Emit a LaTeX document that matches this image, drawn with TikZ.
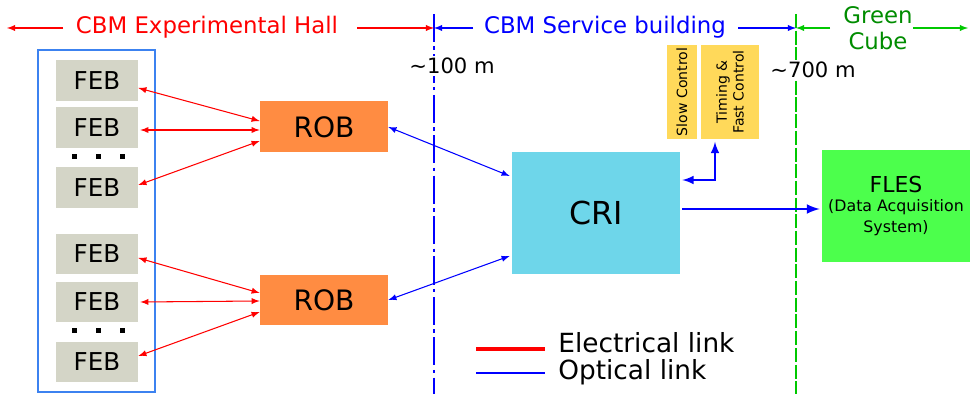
\documentclass[tikz,border=0pt]{standalone}
\usepackage{fontspec}
\setmainfont{DejaVu Sans}
\usetikzlibrary{arrows,calc}

\definecolor{febgrau}{RGB}{212,213,199}
\definecolor{roborange}{RGB}{255,140,66}
\definecolor{criblau}{RGB}{110,214,234}
\definecolor{scgelb}{RGB}{255,217,90}
\definecolor{flesgruen}{RGB}{76,255,76}
\definecolor{rahmenblau}{RGB}{60,130,240}
\definecolor{cubegruen}{RGB}{0,140,0}
\definecolor{liniengruen}{RGB}{0,200,0}

\begin{document}
\begin{tikzpicture}[x=0.02cm, y=-0.02cm,
			>=latex,   %Pfeilspitzen
			feb/.style={fill=febgrau, minimum width=1.64cm, minimum height=0.82cm, inner sep=0pt, font=\fontsize{14}{16}\selectfont},
			rob/.style={fill=roborange, minimum width=2.56cm, minimum height=1.02cm, inner sep=0pt, font=\fontsize{16}{18}\selectfont},
			punkt/.style={fill=black, minimum size=0.1cm, inner sep=0pt},
			elek/.style={<->, red, line width=0.6pt},
			opt/.style={<->, blue, line width=0.6pt},
			kopf/.style={font=\fontsize{13}{15}\selectfont},
			dist/.style={fill=white, inner sep=1pt, font=\fontsize{12}{14}\selectfont},
			leg/.style={right, inner sep=0pt, text height=11pt, text depth=2.5pt, font=\fontsize{15}{16}\selectfont}]
			\useasboundingbox (0,0) rectangle (970,394);
			%Grenzen zeichnen
			\draw[blue, line width=1.3pt, dash pattern=on 16pt off 2.5pt on 2pt off 2.5pt] (434,14) -- (434,394);
			\draw[liniengruen, line width=1.5pt, dash pattern=on 8pt off 1.5pt] (796,14) -- (796,394);
			% Kopfzeile
			\node[kopf, red] (hall) at (207,27) {CBM Experimental Hall};
			\node[kopf, blue] (service) at (605,27) {CBM Service building};
			\node[kopf, cubegruen, align=center, font=\fontsize{13}{14.5}\selectfont] (cube) at (878,28) {Green\\Cube};
			\coordinate (hallL) at (7,28);
			\coordinate (hallLi) at (63,28);
			\coordinate (hallRe) at (357,28);
			\coordinate (servL) at (473,28);
			\coordinate (servR) at (738,28);
			\coordinate (cubeL) at (830,28);
			\coordinate (cubeRi) at (913,28);
			\coordinate (grenze1) at (434,28);
			\coordinate (grenze2) at (796,28);
			\coordinate (cubeR) at (968,28);
			\draw[->, red, line width=0.6pt] (hallLi) -- (hallL);
			\draw[->, red, line width=0.6pt] (hallRe) -- (grenze1);
			\draw[->, blue, line width=0.6pt] (servL) -- (grenze1);
			\draw[->, blue, line width=0.6pt] (servR) -- (grenze2);
			\draw[->, liniengruen, line width=0.6pt] (cubeL) -- (grenze2);
			\draw[->, liniengruen, line width=0.6pt] (cubeRi) -- (cubeR);
			% Entfernungen
			\node[dist] (d100) at (452,66) {∼100 m};
			\node[dist] (d700) at (813,70) {∼700 m};
			% FEBs
			\draw[rahmenblau, line width=0.8pt] (38,50) rectangle (155,392);
			\node[feb] (feb1) at (97,81) {FEB};
			\node[feb] (feb2) at (97,128) {FEB};
			\node[feb] (feb3) at (97,188) {FEB};
			\node[feb] (feb4) at (97,254) {FEB};
			\node[feb] (feb5) at (97,302) {FEB};
			\node[feb] (feb6) at (97,362) {FEB};
			\foreach \x in {74,98,122} {
				\node[punkt] at (\x,157) {};
				\node[punkt] at (\x,331) {};
			}
			% ROBs, CRI, FLES
			\node[rob] (rob1) at (324,127) {ROB};
			\node[rob] (rob2) at (324,300) {ROB};
			\node[fill=criblau, minimum width=3.36cm, minimum height=2.46cm, inner sep=0pt, font=\fontsize{18}{20}\selectfont] (cri) at (596,213) {CRI};
			\node[fill=scgelb, rotate=90, minimum width=1.9cm, minimum height=0.6cm, inner sep=0pt, font=\fontsize{8}{9.5}\selectfont] (sc) at (682,92) {Slow Control};
			\node[fill=scgelb, rotate=90, minimum width=1.9cm, minimum height=1.16cm, inner sep=0pt, align=center, font=\fontsize{8}{9.5}\selectfont] (tfc) at (730,92) {Timing \&\\Fast Control};
			\node[fill=flesgruen, minimum width=2.96cm, minimum height=2.24cm, inner sep=0pt, align=center] (fles) at (896,206) {\fontsize{12.5}{14}\selectfont FLES\\[-1pt]\fontsize{9}{10.5}\selectfont (Data Acquisition\\\fontsize{9}{10.5}\selectfont System)};
			% elektrische Links
			\draw[elek] ($(feb1.east)+(0,7)$) -- ($(rob1.west)+(0,-6)$);
			\draw[elek] ($(feb2.east)+(2,2)$) -- ($(rob1.west)+(0,3)$);
			\draw[elek] ($(feb3.east)+(0,-3)$) -- ($(rob1.west)+(0,14)$);
			\draw[elek] ($(feb4.east)+(0,4)$) -- ($(rob2.west)+(0,-7)$);
			\draw[elek] ($(feb5.east)+(2,0)$) -- ($(rob2.west)+(0,1)$);
			\draw[elek] ($(feb6.east)+(0,-6)$) -- ($(rob2.west)+(0,12)$);
			% optische Links
			\draw[opt] (rob1.east) -- ($(cri.west)+(-2,-37)$);
			\draw[opt] (rob2.east) -- ($(cri.west)+(-2,43)$);
			\draw[<->, blue, line width=1.2pt] ($(tfc.west)+(-15,2)$) |- ($(cri.east)+(2,-33)$);
			\draw[->, blue, line width=1.5pt] ($(cri.east)+(2,-4)$) -- ($(fles.west)+(-2,3)$);
			% Legende
			\node[leg] (legE) at (558,345) {Electrical link};
			\node[leg] (legO) at (558,372) {Optical link};
			\coordinate (legR1) at (476,349);
			\coordinate (legR2) at (545,349);
			\coordinate (legB1) at (476,373);
			\coordinate (legB2) at (545,373);
			\draw[red, line width=1.8pt] (legR1) -- (legR2);
			\draw[blue, line width=1.3pt] (legB1) -- (legB2);
		\end{tikzpicture}
\end{document}
